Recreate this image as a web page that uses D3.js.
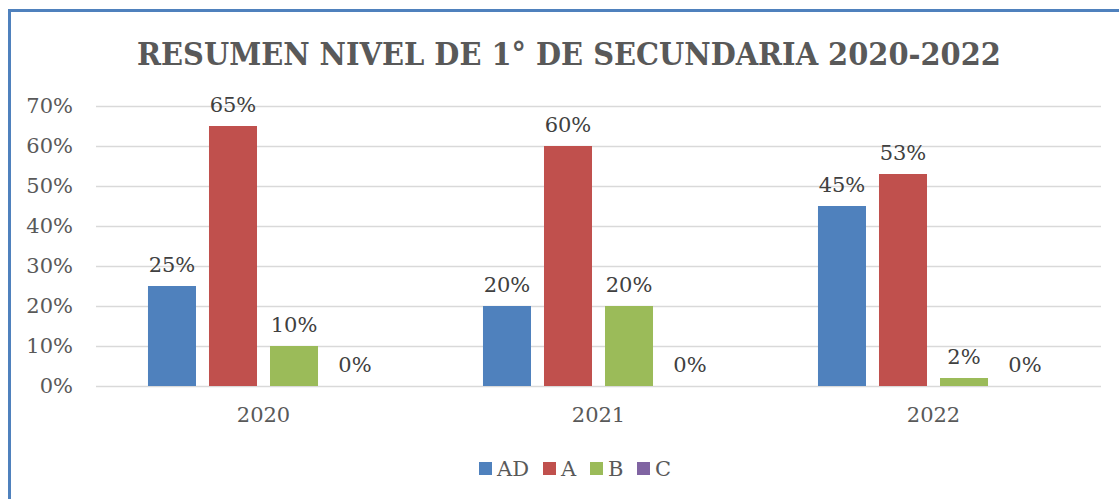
<!DOCTYPE html>
<html>
<head>
<meta charset="utf-8">
<script src="https://cdn.jsdelivr.net/npm/d3@7"></script>
<style>
	html, body { margin: 0; padding: 0; background: #fff; }
	svg { display: block; }
</style>
</head>
<body>
<svg id="chart"></svg>
<script>
const years = ["2020", "2021", "2022"];
const levels = ["AD", "A", "B", "C"];
const AD = [0.25, 0.20, 0.45];
const A = [0.65, 0.60, 0.53];
const B = [0.10, 0.20, 0.02];
const C = [0.00, 0.00, 0.00];
const yTicks = [0, 0.1, 0.2, 0.3, 0.4, 0.5, 0.6, 0.7];
const title = "RESUMEN NIVEL DE 1° DE SECUNDARIA 2020-2022";

const COLOR = ["#4F81BD", "#C0504D", "#9BBB59", "#8064A2"];
const FONT = "'DejaVu Serif', serif";
const TEXT = "#595959";
const SIZE = 21;

const width = 1119;
const height = 499;
const series = [AD, A, B, C];
const pct = d3.format(".0%");

const svg = d3.select("#chart")
	.attr("width", width)
	.attr("height", height);

// frame
svg.append("rect")
	.attr("x", 9.5)
	.attr("y", 10.5)
	.attr("width", width + 20)
	.attr("height", height + 20)
	.attr("fill", "#fff")
	.attr("stroke", "#4F81BD")
	.attr("stroke-width", 3);

// title, sized to span the same width as the original
const titleText = svg.append("text")
	.attr("x", 569)
	.attr("y", 65)
	.attr("text-anchor", "middle")
	.attr("font-family", "'DejaVu Serif Condensed', 'DejaVu Serif', serif")
	.attr("font-stretch", "condensed")
	.attr("font-weight", "bold")
	.attr("font-size", 34)
	.attr("fill", TEXT)
	.text(title);
const tw = titleText.node().getComputedTextLength();
titleText.attr("font-size", Math.min(36, 34 * 864 / tw));

const plot = { left: 96, right: 1101, top: 106, bottom: 386 };

const xScale = d3.scaleBand(years, [plot.left, plot.right]);
const xzScale = d3.scaleBand(levels, [0, xScale.bandwidth()])
	.paddingInner(0.213)
	.paddingOuter(0.852);
const yScale = d3.scaleLinear([0, 0.7], [plot.bottom, plot.top]);

// grid + y labels
const yAxis = d3.axisLeft(yScale)
	.tickValues(yTicks)
	.tickFormat(pct)
	.tickSize(-(plot.right - plot.left))
	.tickPadding(23);

svg.append("g")
	.attr("transform", `translate(${plot.left}, 0)`)
	.call(yAxis)
	.call(g => g.select(".domain").remove())
	.call(g => g.selectAll(".tick line")
		.attr("stroke", "#D9D9D9")
		.attr("stroke-width", 1.5))
	.call(g => g.selectAll(".tick text")
		.attr("font-family", FONT)
		.attr("font-size", SIZE)
		.attr("fill", TEXT));

// bars + value labels
for (let s = 0; s < series.length; s++) {
	svg.append("g")
		.attr("fill", COLOR[s])
		.selectAll("rect")
		.data(years)
		.join("rect")
		.attr("x", d => xScale(d) + xzScale(levels[s]))
		.attr("y", (d, i) => yScale(series[s][i]))
		.attr("width", xzScale.bandwidth())
		.attr("height", (d, i) => yScale(0) - yScale(series[s][i]));

	svg.append("g").selectAll("text")
		.data(years)
		.join("text")
		.attr("x", d => xScale(d) + xzScale(levels[s]) + xzScale.bandwidth() / 2)
		.attr("y", (d, i) => yScale(series[s][i]) - 14)
		.attr("text-anchor", "middle")
		.attr("font-family", FONT)
		.attr("font-size", SIZE)
		.attr("fill", "#404040")
		.text((d, i) => pct(series[s][i]));
}

// x axis labels
const xAxis = d3.axisBottom(xScale).tickSize(0).tickPadding(21);
svg.append("g")
	.attr("transform", `translate(0, ${plot.bottom})`)
	.call(xAxis)
	.call(g => g.select(".domain").remove())
	.call(g => g.selectAll(".tick text")
		.attr("font-family", FONT)
		.attr("font-size", SIZE)
		.attr("fill", TEXT));

// legend
const legendX = [479, 543, 590, 637];
const legend = svg.append("g");
levels.forEach((name, i) => {
	legend.append("rect")
		.attr("x", legendX[i])
		.attr("y", 462)
		.attr("width", 13)
		.attr("height", 13)
		.attr("fill", COLOR[i]);
	legend.append("text")
		.attr("x", legendX[i] + 18)
		.attr("y", 476)
		.attr("font-family", FONT)
		.attr("font-size", SIZE)
		.attr("fill", TEXT)
		.text(name);
});
</script>
</body>
</html>
